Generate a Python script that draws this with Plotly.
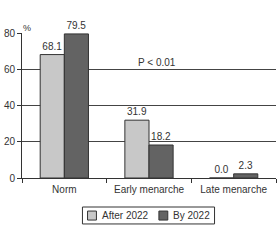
import plotly.graph_objects as go

categories = ["Norm", "Early menarche", "Late menarche"]
after_2022 = [68.1, 31.9, 0.0]
by_2022 = [79.5, 18.2, 2.3]
series_names = ["After 2022", "By 2022"]
series_colors = ["#c8c8c8", "#636363"]
y_ticks = [0, 20, 40, 60, 80]

fig = go.Figure()
for name, vals, col in zip(series_names, [after_2022, by_2022], series_colors):
    fig.add_trace(go.Bar(
        x=categories, y=vals, name=name,
        marker=dict(color=col, line=dict(color="#333333", width=1)),
        text=[f"{v:.1f}" for v in vals], textposition="outside",
        textfont=dict(size=10, color="#333333"), cliponaxis=False,
    ))

fig.add_annotation(x=1.09, y=63.8, xref="x", yref="y", text="P < 0.01",
                   showarrow=False, font=dict(size=10, color="#333333"))
fig.add_annotation(x=-0.004, y=1.083, xref="paper", yref="paper", text="%",
                   showarrow=False, font=dict(size=9, color="#333333"))

# Compact legend box (drawn in paper coordinates)
fig.add_shape(type="rect", xref="paper", yref="paper",
              x0=0.238, x1=0.758, y0=-0.317, y1=-0.2,
              line=dict(color="#333333", width=1), fillcolor="white")
for i, (name, col) in enumerate(zip(series_names, series_colors)):
    sx = [0.258, 0.539][i]
    tx = [0.308, 0.586][i]
    fig.add_shape(type="rect", xref="paper", yref="paper",
                  x0=sx, x1=sx + 0.035, y0=-0.290, y1=-0.228,
                  line=dict(color="#333333", width=1), fillcolor=col)
    fig.add_annotation(x=tx, y=-0.259, xref="paper", yref="paper", text=name,
                       xanchor="left", yanchor="middle", showarrow=False,
                       font=dict(size=10, color="#333333"))

fig.update_layout(
    width=280, height=240,
    margin=dict(l=20, r=4, t=33, b=62),
    paper_bgcolor="white", plot_bgcolor="white",
    font=dict(family="Liberation Sans, Arial, sans-serif", size=10, color="#333333"),
    barmode="group", bargap=0.43, bargroupgap=0,
    showlegend=False,
)
fig.update_xaxes(
    type="category", showline=True, linecolor="#333333", linewidth=1,
    ticks="outside", tickson="boundaries", ticklen=4, tickcolor="#333333",
    showgrid=False, tickfont=dict(size=10), ticklabelstandoff=2,
)
fig.update_yaxes(
    range=[0, 80], tickvals=y_ticks, showline=True, linecolor="#333333", linewidth=1,
    ticks="outside", ticklen=4, tickcolor="#333333",
    showgrid=True, gridcolor="#444444", gridwidth=1, zeroline=False,
    tickfont=dict(size=10),
)

fig.write_html("out.html")
